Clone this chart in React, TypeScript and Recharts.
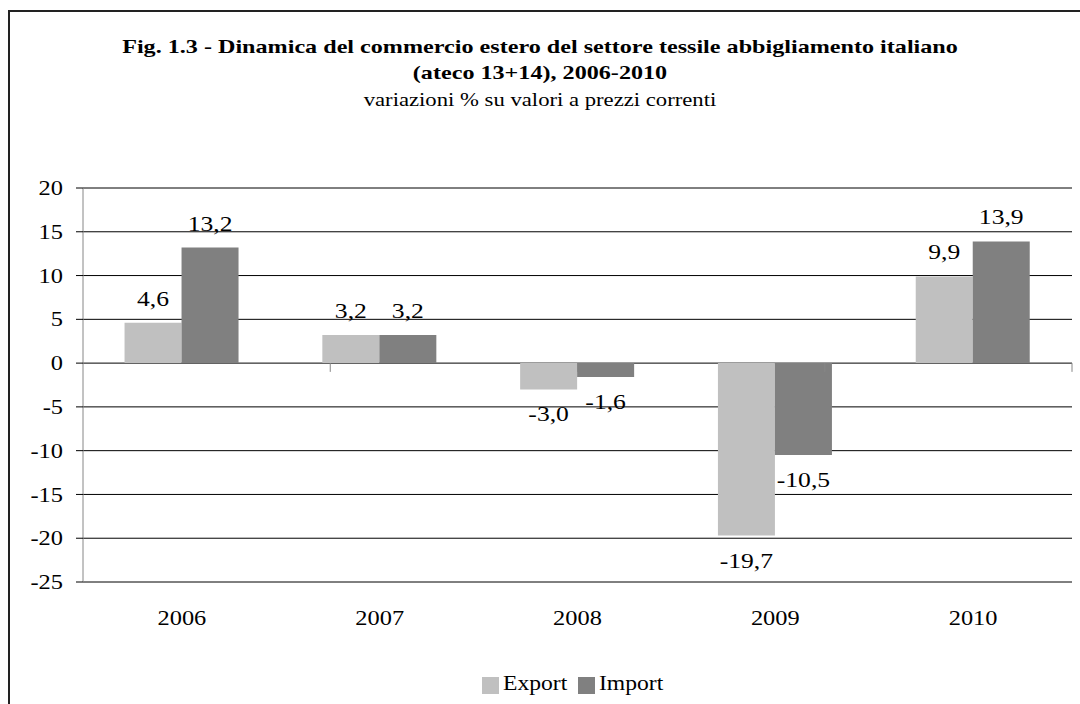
import { Bar, BarChart, CartesianGrid, LabelList, Legend, ReferenceLine, XAxis, YAxis } from 'recharts';

const years = ['2006', '2007', '2008', '2009', '2010'];
const exportVals = [4.6, 3.2, -3.0, -19.7, 9.9];
const importVals = [13.2, 3.2, -1.6, -10.5, 13.9];
const yTicks = [-25, -20, -15, -10, -5, 0, 5, 10, 15, 20];

const data = years.map((y, i) => ({ year: y, Export: exportVals[i], Import: importVals[i] }));
// category boundaries for the little tick marks on the zero line
const bounds = years.map((_, i) => i + 1);

const serif = '"Liberation Serif", "Times New Roman", serif';
const fmt = (v: any) => Number(v).toFixed(1).replace('.', ',');

// the source image is a bit stretched sideways
const wide = (origin: string) => ({
    transform: 'scaleX(1.22)',
    transformBox: 'fill-box',
    transformOrigin: origin,
} as any);

const App = () => {
    return (
        <div style={{ position: 'fixed', left: 0, top: 0, width: 1080, height: 704, overflow: 'hidden', background: '#fff', fontFamily: serif }}>
            <div style={{ position: 'absolute', left: 8, top: 10, width: 1100, height: 720, border: '2px solid #222', boxSizing: 'border-box' }} />
            <div style={{ position: 'absolute', left: 0, width: 1080, top: 34, textAlign: 'center', fontSize: 19, fontWeight: 'bold', lineHeight: '26px', transform: 'scaleX(1.27)' }}>
                Fig. 1.3 - Dinamica del commercio estero del settore tessile abbigliamento italiano
                <br />
                (ateco 13+14), 2006-2010
            </div>
            <div style={{ position: 'absolute', left: 0, width: 1080, top: 87, textAlign: 'center', fontSize: 18, lineHeight: '26px', transform: 'scaleX(1.26)' }}>
                variazioni % su valori a prezzi correnti
            </div>
            <BarChart
                width={1080}
                height={704}
                data={data}
                margin={{ top: 188, right: 8, left: 0, bottom: 92 }}
                barCategoryGap="21%"
                barGap={0}
                style={{ position: 'absolute', left: 0, top: 0 }}
            >
                <CartesianGrid vertical={false} stroke="#000" />
                <XAxis dataKey="year" height={30} axisLine={false} tickLine={false} tickSize={6} tickMargin={23}
                    tick={{ fill: '#000', fontSize: 20, fontFamily: serif, style: wide('center') }} />
                <XAxis xAxisId="b" type="number" domain={[0, years.length]} hide />
                <YAxis width={83} domain={[-25, 20]} ticks={yTicks} interval={0} tickSize={7} tickMargin={13}
                    axisLine={{ stroke: '#868686' }} tickLine={{ stroke: '#000' }}
                    tick={{ fill: '#000', fontSize: 20, fontFamily: serif, style: wide('right center') }} />
                {bounds.map((b) => (
                    <ReferenceLine key={b} xAxisId="b" segment={[{ x: b, y: 0 }, { x: b, y: -1 }]} stroke="#868686" />
                ))}
                <Legend
                    verticalAlign="middle"
                    layout="horizontal"
                    iconType="square"
                    iconSize={17}
                    wrapperStyle={{ left: 83, width: 989, top: 672, fontSize: 20, fontFamily: serif }}
                    formatter={(v: any) => (
                        <span style={{ color: '#000', display: 'inline-block', transform: 'scaleX(1.18)', transformOrigin: 'left center', marginRight: 10 }}>{v}</span>
                    )}
                />
                <Bar dataKey="Export" fill="#c0c0c0" isAnimationActive={false}>
                    <LabelList dataKey="Export" position="top" offset={17} formatter={fmt}
                        style={{ fill: '#000', fontSize: 21, fontFamily: serif, ...wide('center') }} />
                </Bar>
                <Bar dataKey="Import" fill="#808080" isAnimationActive={false}>
                    <LabelList dataKey="Import" position="top" offset={17} formatter={fmt}
                        style={{ fill: '#000', fontSize: 21, fontFamily: serif, ...wide('center') }} />
                </Bar>
            </BarChart>
        </div>
    );
};

export default App;
